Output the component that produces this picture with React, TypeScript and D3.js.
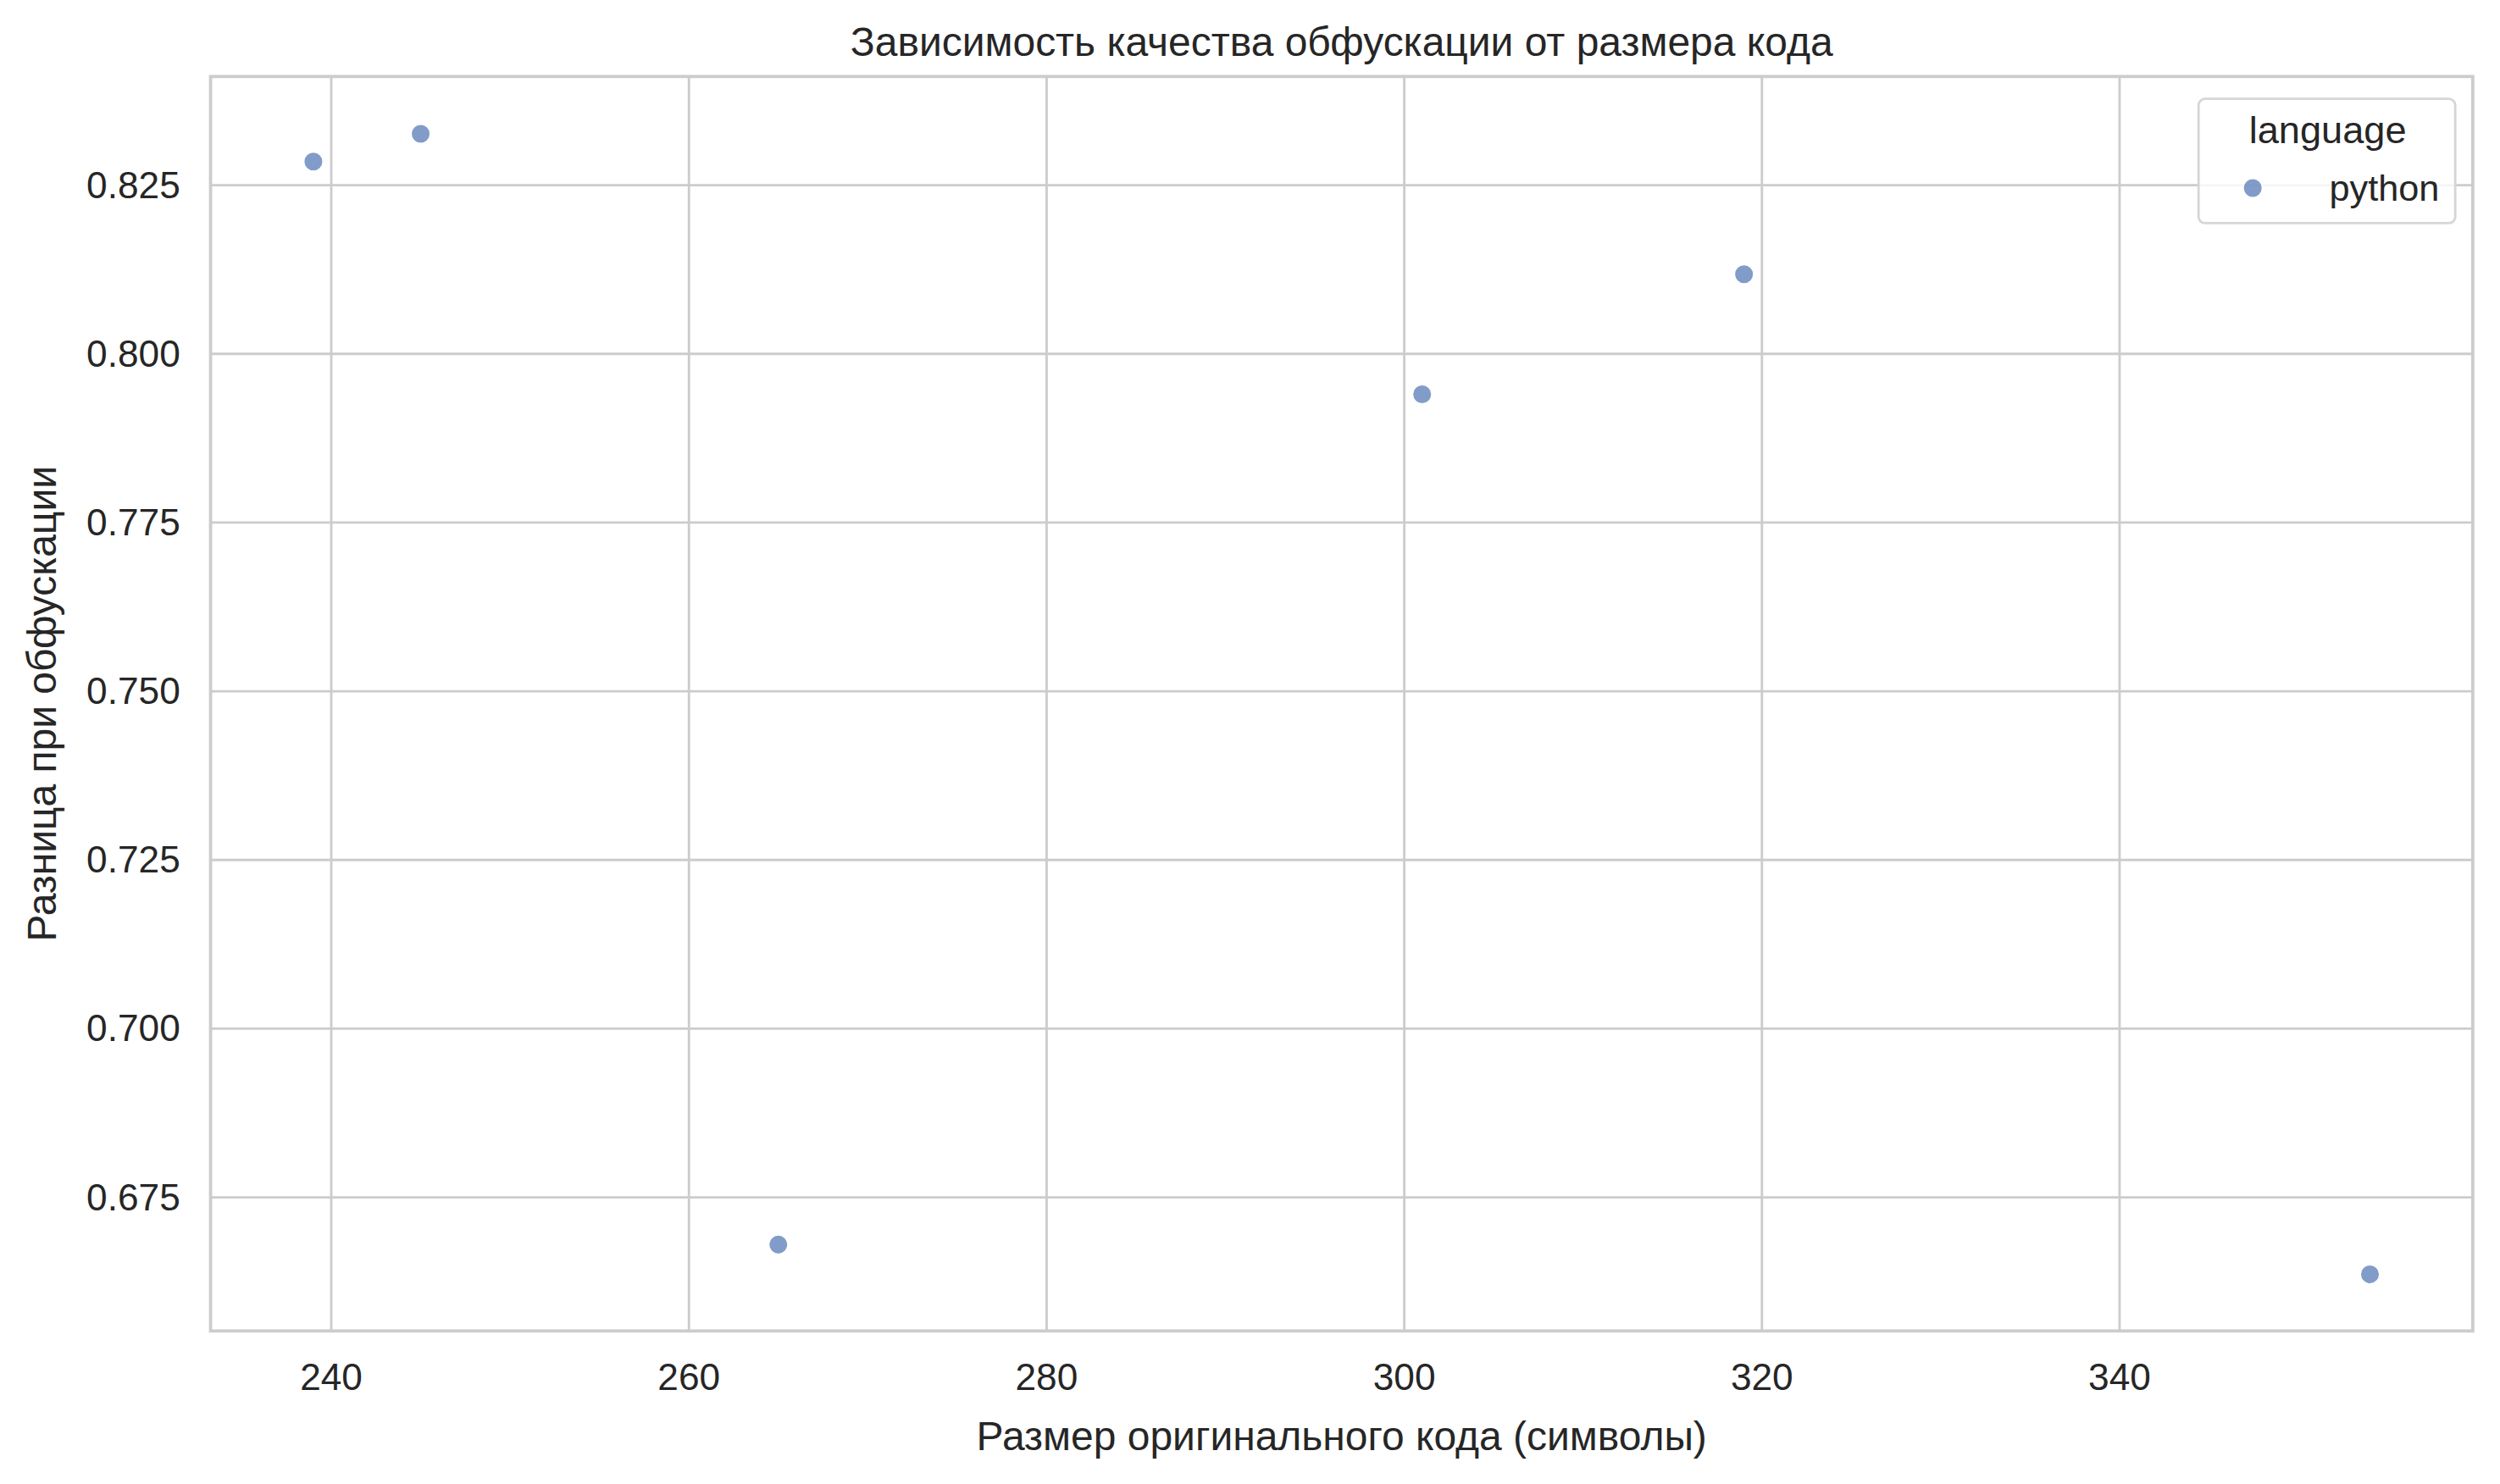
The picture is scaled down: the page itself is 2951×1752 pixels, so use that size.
import * as d3 from 'd3'

const sizes = [239, 245, 265, 301, 319, 354]
const diffs = [0.8285, 0.8326, 0.668, 0.794, 0.8118, 0.6636]
const xTicks = [240, 260, 280, 300, 320, 340]
const yTicks = [0.675, 0.7, 0.725, 0.75, 0.775, 0.8, 0.825]
const legendTitle = 'language'
const legendLabel = 'python'

const W = 1568
const H = 931
const margin = { top: 48, right: 17, bottom: 96, left: 132 }
const font = 'Arial, "Liberation Sans", sans-serif'
const ink = '#262626'
const grid = '#cccccc'

export default function App() {
  const x = d3.scaleLinear().domain([233.25, 359.75]).range([margin.left, W - margin.right])
  const y = d3.scaleLinear().domain([0.6552, 0.8411]).range([H - margin.bottom, margin.top])
  const [x0, x1] = x.range()
  const [y0, y1] = y.range()

  return (
    <svg
      viewBox={`0 0 ${W} ${H}`}
      width={2951}
      height={1752}
      style={{ position: 'absolute', left: 0, top: 0, background: 'white' }}
      fontFamily={font}
    >
      {yTicks.map((t) => (
        <g key={t}>
          <line x1={x0} x2={x1} y1={y(t)} y2={y(t)} stroke={grid} strokeWidth="1.5" />
          <text x={x0 - 19} y={y(t) + 8} textAnchor="end" fontSize="23.5" fill={ink}>
            {t.toFixed(3)}
          </text>
        </g>
      ))}
      {xTicks.map((t) => (
        <g key={t}>
          <line x1={x(t)} x2={x(t)} y1={y0} y2={y1} stroke={grid} strokeWidth="1.5" />
          <text x={x(t)} y={y0 + 37} textAnchor="middle" fontSize="23.5" fill={ink}>
            {t}
          </text>
        </g>
      ))}
      <rect x={x0} y={y1} width={x1 - x0} height={y0 - y1} fill="none" stroke={grid} strokeWidth="2" />

      {sizes.map((s, i) => (
        <circle key={i} cx={x(s)} cy={y(diffs[i])} r="6" fill="#4c72b0" fillOpacity="0.7" stroke="white" strokeWidth="0.8" />
      ))}

      <g>
        <rect x={1379} y={62} width={161} height={78} rx="4" fill="white" fillOpacity="0.8" stroke="#d6d6d6" strokeWidth="1.5" />
        <text x={1460} y={90} textAnchor="middle" fontSize="24" fill={ink}>{legendTitle}</text>
        <circle cx={1413} cy={118} r="6" fill="#4c72b0" fillOpacity="0.7" stroke="white" strokeWidth="0.8" />
        <text x={1530} y={126} textAnchor="end" fontSize="23" fill={ink}>{legendLabel}</text>
      </g>

      <text x={(x0 + x1) / 2} y={35} textAnchor="middle" fontSize="25.5" fill={ink}>
        Зависимость качества обфускации от размера кода
      </text>
      <text x={(x0 + x1) / 2} y={910} textAnchor="middle" fontSize="25.5" fill={ink}>
        Размер оригинального кода (символы)
      </text>
      <text transform={`translate(35,${(y0 + y1) / 2}) rotate(-90)`} textAnchor="middle" fontSize="25.5" fill={ink}>
        Разница при обфускации
      </text>
    </svg>
  )
}
